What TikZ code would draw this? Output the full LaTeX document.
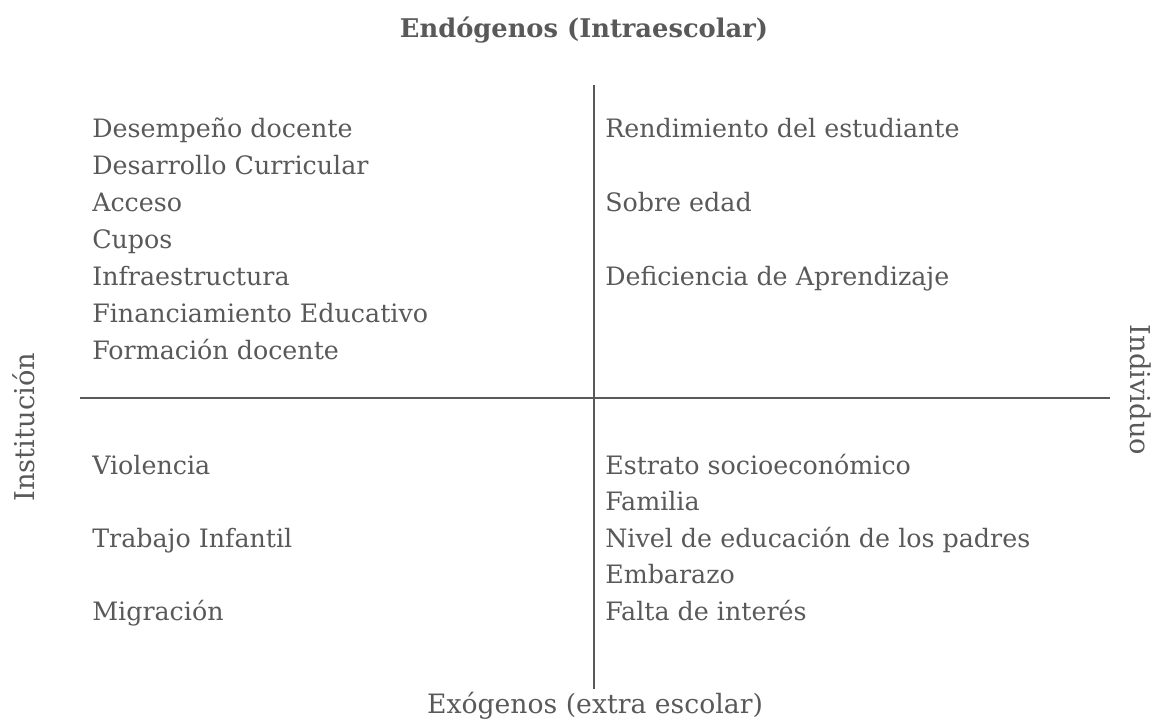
\documentclass[tikz,border=0pt]{standalone}
\usepackage{fontspec}
\setmainfont{DejaVu Serif}
\usepackage{xcolor}
\usetikzlibrary{positioning}
\definecolor{quadgray}{HTML}{595959}

\begin{document}
\begin{tikzpicture}[x=0.75pt, y=-0.75pt,
    item/.style={anchor=base west, inner sep=0pt, text=quadgray, font=\fontsize{19}{22}\selectfont},
    axislabel/.style={inner sep=0pt, text=quadgray, font=\fontsize{20}{22}\selectfont},
    axisline/.style={draw=quadgray, line width=2.2pt}]
  \useasboundingbox (0,0) rectangle (1164,719);
  % axes
  \coordinate (vtop) at (594,85);
  \coordinate (vbot) at (594,689);
  \coordinate (hleft) at (80,398);
  \coordinate (hright) at (1110,398);
  \draw[axisline] (vtop) -- (vbot);
  \draw[axisline] (hleft) -- (hright);
  % axis labels
  \node[axislabel, font=\fontsize{19.3}{22}\selectfont\bfseries] (endo) at (584,30) {Endógenos (Intraescolar)};
  \node[axislabel, anchor=base] (exo) at (595,713) {Exógenos (extra escolar)};
  \node[axislabel, font=\fontsize{20.5}{22}\selectfont, rotate=90] (inst) at (24,427) {Institución};
  \node[axislabel, font=\fontsize{20.5}{22}\selectfont, rotate=-90] (indiv) at (1141,390) {Individuo};
  % quadrant texts (baselines)
  \foreach \t [count=\i] in {Desempeño docente, Desarrollo Curricular, Acceso, Cupos,
      Infraestructura, Financiamiento Educativo, Formación docente}
    \node[item] (tl\i) at (92,{137+37*(\i-1)}) {\t};
  \foreach \t [count=\i] in {Rendimiento del estudiante, Sobre edad, Deficiencia de Aprendizaje}
    \node[item] (tr\i) at (605,{137+74*(\i-1)}) {\t};
  \foreach \t [count=\i] in {Violencia, Trabajo Infantil, Migración}
    \node[item] (bl\i) at (92,{474+73*(\i-1)}) {\t};
  \foreach \t [count=\i] in {Estrato socioeconómico, Familia, Nivel de educación de los padres,
      Embarazo, Falta de interés}
    \node[item] (br\i) at (605,{474+36.5*(\i-1)}) {\t};
\end{tikzpicture}
\end{document}
